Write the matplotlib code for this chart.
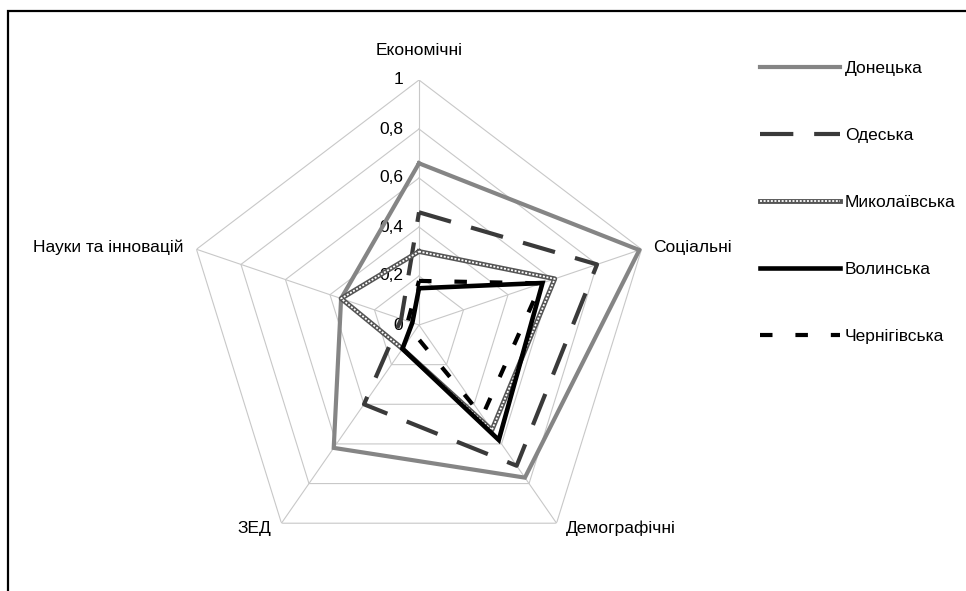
import numpy as np
import matplotlib
matplotlib.use("Agg")
import matplotlib.pyplot as plt
from matplotlib.patches import Rectangle

plt.rcParams['font.family'] = ['Liberation Sans Narrow', 'Liberation Sans', 'DejaVu Sans']

categories = ['Економічні', 'Соціальні', 'Демографічні', 'ЗЕД', 'Науки та інновацій']
ring_values = [0, 0.2, 0.4, 0.6, 0.8, 1.0]
ring_labels = ['0', '0,2', '0,4', '0,6', '0,8', '1']

donetska = [0.66, 0.99, 0.77, 0.62, 0.35]
odeska = [0.46, 0.80, 0.71, 0.40, 0.08]
mykolaivska = [0.30, 0.61, 0.53, 0.12, 0.35]
volynska = [0.15, 0.555, 0.58, 0.12, 0.03]
chernihivska = [0.18, 0.55, 0.46, 0.04, 0.05]


def closed(vals):
    return list(vals) + [vals[0]]


def main():
    fig = plt.figure(figsize=(9.66, 5.91), dpi=100)
    ax = fig.add_axes([185 / 966, 21 / 591, 468 / 966, 490 / 591], projection='polar')
    ax.set_theta_zero_location('N')
    ax.set_theta_direction(-1)
    ax.set_aspect('auto')
    ax.set_ylim(0, 1)
    ax.grid(False)
    ax.set_xticks([])
    ax.set_yticks([])
    ax.spines['polar'].set_visible(False)
    ax.patch.set_alpha(0)

    n = len(categories)
    theta = np.arange(n) * 2 * np.pi / n
    th = closed(theta)

    # pentagon grid + spokes
    for r in ring_values[1:]:
        ax.plot(th, [r] * (n + 1), color='#c8c8c8', lw=0.8, zorder=1)
    for t in theta:
        ax.plot([t, t], [0, 1], color='#c8c8c8', lw=0.8, zorder=1)

    # ring labels along the top axis
    for r, lab in zip(ring_values, ring_labels):
        ax.annotate(lab, (0, r), xytext=(-11.5, 0), textcoords='offset points',
                    ha='right', va='center', fontsize=12.5, zorder=2)

    # category labels
    offsets = [(0, 21.5, 'center'), (8, 1.5, 'left'), (7, -3.6, 'left'),
               (-7.3, -3.6, 'right'), (-9, 1.5, 'right')]
    for t, lab, (dx, dy, ha) in zip(theta, categories, offsets):
        ax.annotate(lab, (t, 1.0), xytext=(dx, dy), textcoords='offset points',
                    ha=ha, va='center', fontsize=12.5)

    h1, = ax.plot(th, closed(donetska), color='#858585', lw=3, zorder=3,
                  solid_joinstyle='miter')
    h2, = ax.plot(th, closed(odeska), color='#3a3a3a', lw=3, zorder=4,
                  dashes=(8, 5), dash_capstyle='butt')
    h3a, = ax.plot(th, closed(mykolaivska), color='#555555', lw=3.5, zorder=5)
    h3b, = ax.plot(th, closed(mykolaivska), color='white', lw=1.3, zorder=5.1,
                   dashes=(1.1, 0.9))
    h4, = ax.plot(th, closed(volynska), color='black', lw=3.3, zorder=6,
                  solid_joinstyle='miter')
    h5, = ax.plot(th, closed(chernihivska), color='black', lw=3, zorder=7,
                  dashes=(3, 5.5), dash_capstyle='butt')

    fig.legend([h1, h2, (h3a, h3b), h4, h5],
               ['Донецька', 'Одеська', 'Миколаївська', 'Волинська', 'Чернігівська'],
               loc='upper left', bbox_to_anchor=(760 / 966, 1 - 61 / 591),
               frameon=False, fontsize=12.5, handlelength=4.6, handletextpad=0.3,
               labelspacing=2.98, borderpad=0, borderaxespad=0)

    fig.add_artist(Rectangle((8 / 966, -0.1), 1.2, 1.1 - 11 / 591,
                             transform=fig.transFigure, fill=False,
                             lw=1.6, ec='black'))

    fig.savefig('out.png', dpi=100)


if __name__ == "__main__":
    main()
